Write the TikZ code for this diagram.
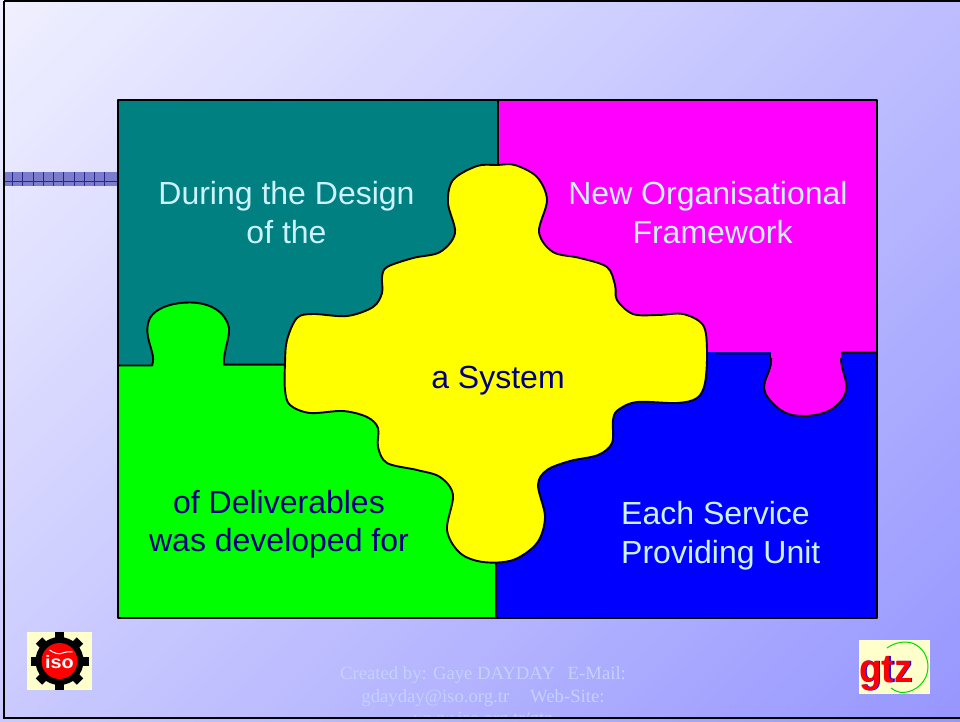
\documentclass[tikz,border=0pt]{standalone}
\usepackage{fontspec}
\setmainfont{Liberation Sans}
\newfontfamily\footfont{Liberation Serif}
\definecolor{bgA}{HTML}{F0F0FF}
\definecolor{bgB}{HTML}{9696FF}
\definecolor{lighttxt}{HTML}{CCF2FF}
\definecolor{darktxt}{HTML}{000080}
\definecolor{foottxt}{HTML}{C4D2FF}
\definecolor{logobg}{HTML}{FFFFCC}
\definecolor{barfill}{HTML}{7C7CCC}
\definecolor{barline}{HTML}{26268C}
\definecolor{teal0}{HTML}{008080}
\definecolor{pureM}{RGB}{255,0,255}
\definecolor{pureY}{RGB}{255,255,0}
\definecolor{pureG}{RGB}{0,255,0}
\definecolor{pureB}{RGB}{0,0,255}
\definecolor{pureR}{RGB}{255,0,0}
\tikzset{
  piece/.style={draw=black,line width=1.9pt,line join=round},
  biglight/.style={anchor=base,text=lighttxt,font=\fontsize{32}{39}\selectfont,inner sep=0pt},
  bigdark/.style={anchor=base,text=darktxt,font=\fontsize{32}{39}\selectfont,inner sep=0pt},
  foot/.style={anchor=base,text=foottxt,font=\footfont\fontsize{18.7}{24}\selectfont,inner sep=0pt}
}
\begin{document}
\begin{tikzpicture}[x=1pt,y=-1pt]
\useasboundingbox (0,0) rectangle (960,721);
% background: diagonal gradient built from overlapping bands
\begin{scope}
  \clip (0,0) rectangle (960,721);
  \foreach \i in {0,...,119}{
    \pgfmathsetmacro{\mixv}{100-\i/1.19}
    \pgfmathsetmacro{\startv}{\i*14.1}
    \fill[bgA!\mixv!bgB] (\startv,0) -- (\startv+800,0) -- (\startv+800,800) -- (\startv-800,800) -- cycle;
  }
\end{scope}
% slide frame
\draw[black,line width=2.2pt] (4,1) -- (962,1);
\draw[black,line width=2.2pt] (4,1) -- (4,718) -- (962,718);
% grid bar
\fill[barfill] (5,172) rectangle (117,186);
\foreach \xx in {12.5,22.5,33,43.5,53.5,63.5,74,84,94,104.5}
  \draw[barline,line width=0.5pt] (\xx,172) -- (\xx,186);
\draw[barline,line width=0.6pt] (5,181.5) -- (117,181.5);
% puzzle pieces
\fill[teal0] (118,100) rectangle (498,366);
\fill[pureM] (498,100) rectangle (877,354);
\fill[pureB] (496,352) rectangle (877,618);
\fill[pureG] (118,365.5) rectangle (496,618);
\draw[piece] (498,170) -- (498,100) -- (118,100) -- (118,618) -- (877,618) -- (877,100) -- (498,100);
\draw[piece,fill=pureG] (118,365.5) -- (152,365.5)
  .. controls (155,360) and (152,352) .. (150,345)
  .. controls (147,335) and (146,326) .. (150,318)
  .. controls (155,309) and (170,302.5) .. (190,302.5)
  .. controls (210,302.5) and (226,312) .. (229,328)
  .. controls (230,338) and (223,352) .. (224,364.5)
  -- (300,364.5);
\fill[pureG] (153.5,360) rectangle (223,372);
\draw[piece,fill=pureM] (715,353.5) -- (770,353.5)
  .. controls (773,362) and (770,368) .. (767,376)
  .. controls (763,385) and (763,392) .. (769,399)
  .. controls (776,408) and (784,413) .. (792,415)
  .. controls (808,417.5) and (822,415) .. (832,409)
  .. controls (842,402) and (848,394) .. (846,382)
  .. controls (844,372) and (839,363) .. (842,352.5)
  -- (877,352.5);
\fill[pureM] (771,345) rectangle (841,358);
\draw[piece] (496,555) -- (496,618);
% central piece
\draw[piece,fill=pureY] plot[smooth cycle,tension=0.55] coordinates {
  (477,166) (497,165) (515,165) (537,177) (547,200) (539,232) (553,252) (580,258)
  (607,267) (615,285) (617,300) (633,314) (658,315) (683,314) (703,325) (707,350)
  (705,383) (697,398) (677,403) (637,402) (618,410) (613,420) (612,443) (598,455)
  (570,461) (547,470) (538,485) (545,517) (537,543) (513,560) (483,562) (460,553)
  (447,530) (453,495) (440,477) (417,470) (387,463) (378,447) (378,428) (367,417)
  (343,411) (310,413) (290,405) (285,390) (285,363) (287,340) (297,318) (313,314)
  (347,316) (373,307) (382,293) (382,277) (387,267) (413,258) (440,252) (455,233)
  (448,203) (453,180)};
% labels
\node[biglight] (t1) at (286.5,204) {During the Design};
\node[biglight] (t2) at (286.5,243) {of the};
\node[biglight] (t3) at (708,204) {New Organisational};
\node[biglight] (t4) at (712.5,243) {Framework};
\node[bigdark] (t5) at (498,388) {a System};
\node[bigdark] (t6) at (279,513) {of Deliverables};
\node[bigdark] (t7) at (279,551) {was developed for};
\node[biglight,anchor=base west] (t8) at (621,524) {Each Service};
\node[biglight,anchor=base west] (t9) at (621,563) {Providing Unit};
% footer
\begin{scope}
  \clip (5,640) rectangle (960,716.5);
  \node[foot] (f1) at (483,679) {Created by: Gaye DAYDAY\hspace{13pt}E-Mail:};
  \node[foot] (f2) at (483,702.5) {gdayday@iso.org.tr\hspace{21pt}Web-Site:};
  \node[foot] (f3) at (483,724.5) {www.iso.org.tr/gtz};
\end{scope}
% ISO logo
\fill[logobg] (27,632) rectangle (92,690);
\begin{scope}[shift={(59.5,661)}]
  \fill[black] (0,0) circle (24);
  \foreach \a in {0,45,...,315}
    \fill[black,rotate=\a] (-4.5,-29) rectangle (4.5,-20);
  \fill[pureR] (0,0) circle (18);
  \draw[white,line width=1pt] (-10,-11) .. controls (-6,-8) and (0,-6) .. (3,-8) .. controls (6,-9.5) and (9,-9.5) .. (13,-9);
  \node[text=white,inner sep=0pt,font=\bfseries\fontsize{18}{18}\selectfont,xscale=1.1] (isotxt) at (0,1) {iso};
\end{scope}
% GTZ logo
\fill[logobg] (859,640) rectangle (930,694);
\draw[pureG!85!black,line width=1pt] (887,648) .. controls (895,642) and (905,641) .. (912,643)
  .. controls (923,647) and (928,657) .. (928,667)
  .. controls (928,680) and (917,692) .. (903,692.5)
  .. controls (899,692.5) and (895,691) .. (891,688);
\node[text=pureB,anchor=base,inner sep=0pt,font=\bfseries\fontsize{40}{40}\selectfont,xscale=0.92] (gtzb) at (887.5,682) {gtz};
\node[text=pureR,anchor=base,inner sep=0pt,font=\bfseries\fontsize{40}{40}\selectfont,xscale=0.92] (gtzr) at (886,682) {gtz};
\end{tikzpicture}
\end{document}
